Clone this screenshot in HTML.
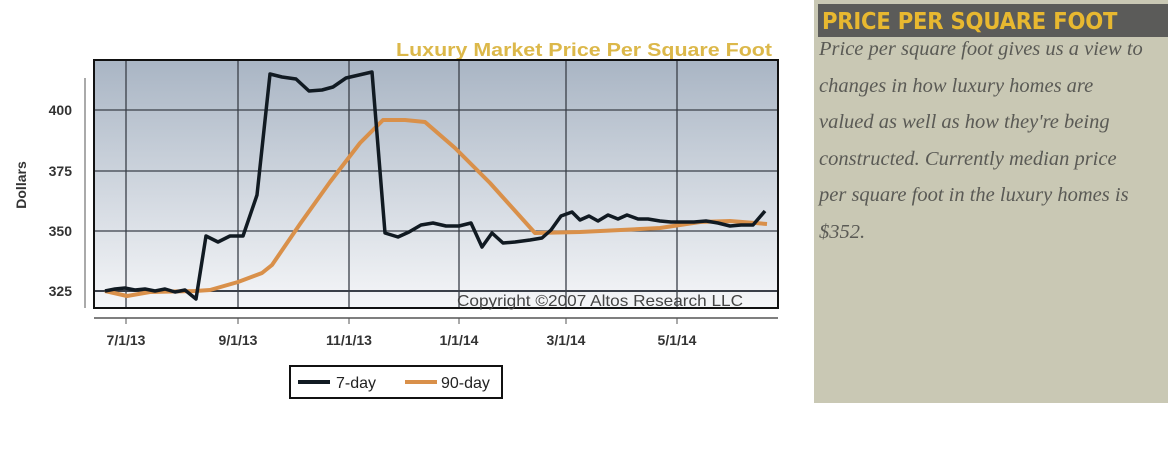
<!DOCTYPE html>
<html><head><style>
body{margin:0;width:1168px;height:466px;background:#fff;overflow:hidden;position:relative;font-family:"Liberation Sans",sans-serif}
.panel{position:absolute;left:814px;top:0;width:354px;height:403px;background:#c9c8b4}
.hdr{position:absolute;left:4px;top:4px;width:350px;height:33px;background:#5b5b59;color:#e8b830;font-weight:bold;font-size:23.5px;line-height:35px;padding-left:4px;box-sizing:border-box;font-family:"DejaVu Sans Condensed","DejaVu Sans",sans-serif;letter-spacing:-0.2px;white-space:nowrap}
.txt{position:absolute;left:5px;top:31px;width:350px;font-family:"Liberation Serif",serif;font-style:italic;color:#5a5a55;font-size:20.5px;line-height:36.5px;white-space:nowrap}
</style></head><body>
<svg width="800" height="466" style="position:absolute;left:0;top:0">
<defs><linearGradient id="g" x1="0" y1="0" x2="0" y2="1"><stop offset="0" stop-color="#a9b5c4"/><stop offset="0.55" stop-color="#d3d9e1"/><stop offset="1" stop-color="#f5f6f8"/></linearGradient></defs>
<text x="396" y="56" textLength="376" lengthAdjust="spacingAndGlyphs" font-size="18" font-weight="bold" fill="#dcb84a">Luxury Market Price Per Square Foot</text>
<rect x="94" y="60" width="684" height="248" fill="url(#g)"/>
<g stroke="#3a3f48" stroke-width="1.3">
<line x1="126" y1="60" x2="126" y2="308"/><line x1="238" y1="60" x2="238" y2="308"/><line x1="349" y1="60" x2="349" y2="308"/><line x1="459" y1="60" x2="459" y2="308"/><line x1="566" y1="60" x2="566" y2="308"/><line x1="677" y1="60" x2="677" y2="308"/>
<line x1="94" y1="110" x2="778" y2="110"/><line x1="94" y1="171" x2="778" y2="171"/><line x1="94" y1="231" x2="778" y2="231"/><line x1="94" y1="291" x2="778" y2="291" stroke-width="2"/>
</g>
<rect x="94" y="60" width="684" height="248" fill="none" stroke="#111" stroke-width="2"/>
<line x1="85" y1="78" x2="85" y2="308" stroke="#555"/>
<line x1="94" y1="318" x2="778" y2="318" stroke="#555" stroke-width="1.5"/>
<g stroke="#555"><line x1="126" y1="318" x2="126" y2="324"/><line x1="238" y1="318" x2="238" y2="324"/><line x1="349" y1="318" x2="349" y2="324"/><line x1="459" y1="318" x2="459" y2="324"/><line x1="566" y1="318" x2="566" y2="324"/><line x1="677" y1="318" x2="677" y2="324"/></g>
<g font-size="14" font-weight="bold" fill="#333" text-anchor="end">
<text x="72" y="115">400</text><text x="72" y="176">375</text><text x="72" y="236">350</text><text x="72" y="296">325</text></g>
<text transform="translate(26,185) rotate(-90)" font-size="14" font-weight="bold" fill="#333" text-anchor="middle">Dollars</text>
<g font-size="14" font-weight="bold" fill="#333" text-anchor="middle">
<text x="126" y="345">7/1/13</text><text x="238" y="345">9/1/13</text><text x="349" y="345">11/1/13</text><text x="459" y="345">1/1/14</text><text x="566" y="345">3/1/14</text><text x="677" y="345">5/1/14</text></g>
<text x="457" y="306" textLength="286" lengthAdjust="spacingAndGlyphs" font-size="16" fill="#444">Copyright ©2007 Altos Research LLC</text>
<polyline fill="none" stroke="#d9904a" stroke-width="4" stroke-linejoin="round" points="105,291 127,296 150,292 195,291 210,290 238,282 262,273 272,265 300,224 330,182 360,143 383,120 405,120 425,122 455,148 490,183 535,233 580,232 660,228 700,222 730,221 767,224"/>
<polyline fill="none" stroke="#111a22" stroke-width="3.5" stroke-linejoin="round" points="105,291 115,289 125,288 135,290 145,289 155,291 165,289 175,292 185,290 196,299 206,236 218,242 230,236 243,236 257,195 270,74 282,77 296,79 309,91 322,90 333,87 346,78 359,75 372,72 385,233 398,237 409,232 421,225 433,223 446,226 459,226 471,223 482,247 492,233 503,243 515,242 530,240 542,238 551,230 561,216 572,212 580,220 589,216 598,221 608,215 618,219 627,215 638,219 648,219 660,221 671,222 682,222 694,222 706,221 718,223 730,226 741,225 753,225 765,211"/>
<rect x="290" y="366" width="212" height="32" fill="#fff" stroke="#111" stroke-width="2"/>
<line x1="298" y1="382" x2="330" y2="382" stroke="#111a22" stroke-width="4"/>
<text x="336" y="388" font-size="16" fill="#222">7-day</text>
<line x1="405" y1="382" x2="437" y2="382" stroke="#d9904a" stroke-width="4"/>
<text x="441" y="388" font-size="16" fill="#222">90-day</text>
</svg>
<div class="panel"><div class="hdr">PRICE PER SQUARE FOOT</div>
<div class="txt">Price per square foot gives us a view to<br>changes in how luxury homes are<br>valued as well as how they're being<br>constructed. Currently median price<br>per square foot in the luxury homes is<br>$352.</div></div>
</body></html>
